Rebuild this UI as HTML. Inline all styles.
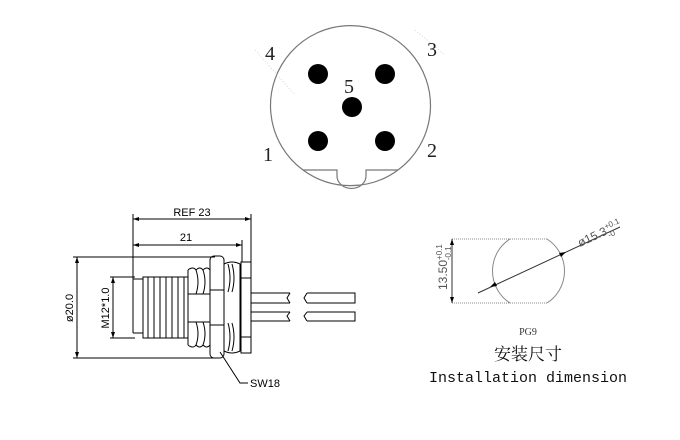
<!DOCTYPE html>
<html><head><meta charset="utf-8"><style>html,body{margin:0;padding:0;background:#fff}svg{display:block}</style></head>
<body>
<svg width="680" height="440" viewBox="0 0 680 440" xmlns="http://www.w3.org/2000/svg">
<rect width="680" height="440" fill="#fff"/>
<!-- top connector face -->
<g stroke="#777" stroke-width="1.2" fill="none">
<path d="M303,170 A80,80 0 1 1 398,170"/>
<path d="M303,170 A80,80 0 0 0 398,170"/>
<path d="M303,170 H337 V176 A14,12 0 0 0 366,176 V170 H398"/>
</g>
<g stroke="#ccc" stroke-width="0.8" stroke-dasharray="1,2">
<line x1="255" y1="50" x2="295" y2="95"/><line x1="415" y1="30" x2="445" y2="55"/>
</g>
<g fill="#000">
<circle cx="318" cy="74" r="10"/><circle cx="385" cy="74" r="10"/><circle cx="352" cy="107" r="10"/>
<circle cx="318" cy="141" r="10"/><circle cx="385" cy="141" r="10"/>
</g>
<g font-family="Liberation Serif, serif" font-size="20" fill="#222" text-anchor="middle">
<text x="270" y="60">4</text><text x="432" y="56">3</text><text x="349" y="93">5</text>
<text x="268" y="161">1</text><text x="432" y="157">2</text>
</g>
<!-- side view -->
<g stroke="#000" stroke-width="1" fill="none">
<line x1="133" y1="219" x2="251" y2="219"/><line x1="133" y1="245" x2="242" y2="245"/>
<line x1="133" y1="214" x2="133" y2="333"/><line x1="251" y1="214" x2="251" y2="262"/><line x1="242" y1="240" x2="242" y2="262"/>
<line x1="77" y1="257" x2="77" y2="358"/><line x1="73" y1="257" x2="215" y2="257"/><line x1="73" y1="358" x2="215" y2="358"/>
<line x1="113" y1="277" x2="113" y2="338"/><line x1="110" y1="277" x2="135" y2="277"/><line x1="110" y1="338" x2="135" y2="338"/>
<!-- thread body -->
<path d="M133,279 H143 V277 H188 M133,333 H143 V338 H188 M133,279 V333 M143,277 V338"/>
<path d="M148,277 V338 M154,277 V338 M160,277 V338 M166,277 V338 M172,277 V338 M178,277 V338 M184,277 V338"/>
<!-- O-ring bumps -->
<path d="M188,270 q5,-4 8,0 q4,-4 7,0 q4,-4 7,0 M188,345 q5,4 8,0 q4,4 7,0 q4,4 7,0"/>
<path d="M188,270 V345 M196,270 q4,12 0,24 M203,270 q4,12 0,24 M196,322 q4,12 0,23 M203,322 q4,12 0,23 M188,294 H210 M188,322 H210"/>
<!-- nut -->
<rect x="210" y="256" width="14" height="102" rx="4"/>
<line x1="210" y1="290" x2="224" y2="290"/><line x1="210" y1="325" x2="224" y2="325"/>
<path d="M224,264 q8,-4 16,0 V351 q-8,4 -16,0 M228,264 q4,14 0,28 M232,264 q4,14 0,28 M228,323 q4,14 0,28 M232,323 q4,14 0,28"/>
<!-- flange -->
<rect x="241" y="262" width="10" height="91"/>
<line x1="241" y1="278" x2="251" y2="278"/><line x1="241" y1="337" x2="251" y2="337"/>
<!-- wires -->
<path d="M251,293 H290 M251,303 H290 M251,312 H290 M251,321 H290"/>
<path d="M290,293 l-3,5 l3,5 M290,312 l-3,4 l3,5"/>
<path d="M307,293 H355 V303 H307 M307,312 H355 V321 H307 M307,293 l-3,5 l3,5 M307,312 l-3,4 l3,5"/>
<path d="M220,352 L240,383 H248"/>
</g>
<g fill="#000"><path d="M133,219 l6,-2 v4z M251,219 l-6,-2 v4z M133,245 l6,-2 v4z M242,245 l-6,-2 v4z M77,257 l-2,6 h4z M77,358 l-2,-6 h4z M113,277 l-2,6 h4z M113,338 l-2,-6 h4z"/></g>
<g font-family="Liberation Sans, sans-serif" font-size="11" fill="#000">
<text x="192" y="216" text-anchor="middle">REF 23</text>
<text x="186" y="241" text-anchor="middle">21</text>
<text x="250" y="387">SW18</text>
<text transform="translate(73,308) rotate(-90)" text-anchor="middle">ø20.0</text>
<text transform="translate(109,308) rotate(-90)" text-anchor="middle">M12*1.0</text>
</g>
<!-- install -->
<g stroke="#888" stroke-width="1" fill="none">
<path d="M452,239 H510 M452,303 H510 M547,239 H510 M547,303 H510" stroke-dasharray="1,1"/>
<path d="M510,239 A38,38 0 0 0 510,303 M547,239 A38,38 0 0 1 547,303"/>
<line x1="452" y1="239" x2="452" y2="303" stroke="#333"/>
<line x1="478" y1="293" x2="620" y2="227" stroke="#333"/>
</g>
<g fill="#000"><path d="M452,239 l-2,6 h4z M452,303 l-2,-6 h4z M490,287 l7,-1 l-2,-4z M566,252 l-7,1 l2,4z"/></g>
<g font-family="Liberation Sans, sans-serif" fill="#555">
<text transform="translate(447,290) rotate(-90)" font-size="12">13.50<tspan font-size="8" dy="-5">+0.1</tspan><tspan font-size="8" dx="-16" dy="9">-0.1</tspan></text>
<text transform="translate(580,247) rotate(-25)" font-size="12">ø15.3<tspan font-size="8" dy="-5">+0.1</tspan><tspan font-size="8" dx="-16" dy="9">-0</tspan></text>
</g>
<text x="528" y="335" font-family="Liberation Serif, serif" font-size="10" fill="#333" text-anchor="middle">PG9</text>
<text x="528" y="360" font-family="Liberation Serif, 'Noto Serif CJK SC', serif" font-size="17" fill="#111" text-anchor="middle">安装尺寸</text>
<text x="528" y="382" font-family="Liberation Mono, monospace" font-size="15" fill="#111" text-anchor="middle">Installation dimension</text>
</svg>
</body></html>
